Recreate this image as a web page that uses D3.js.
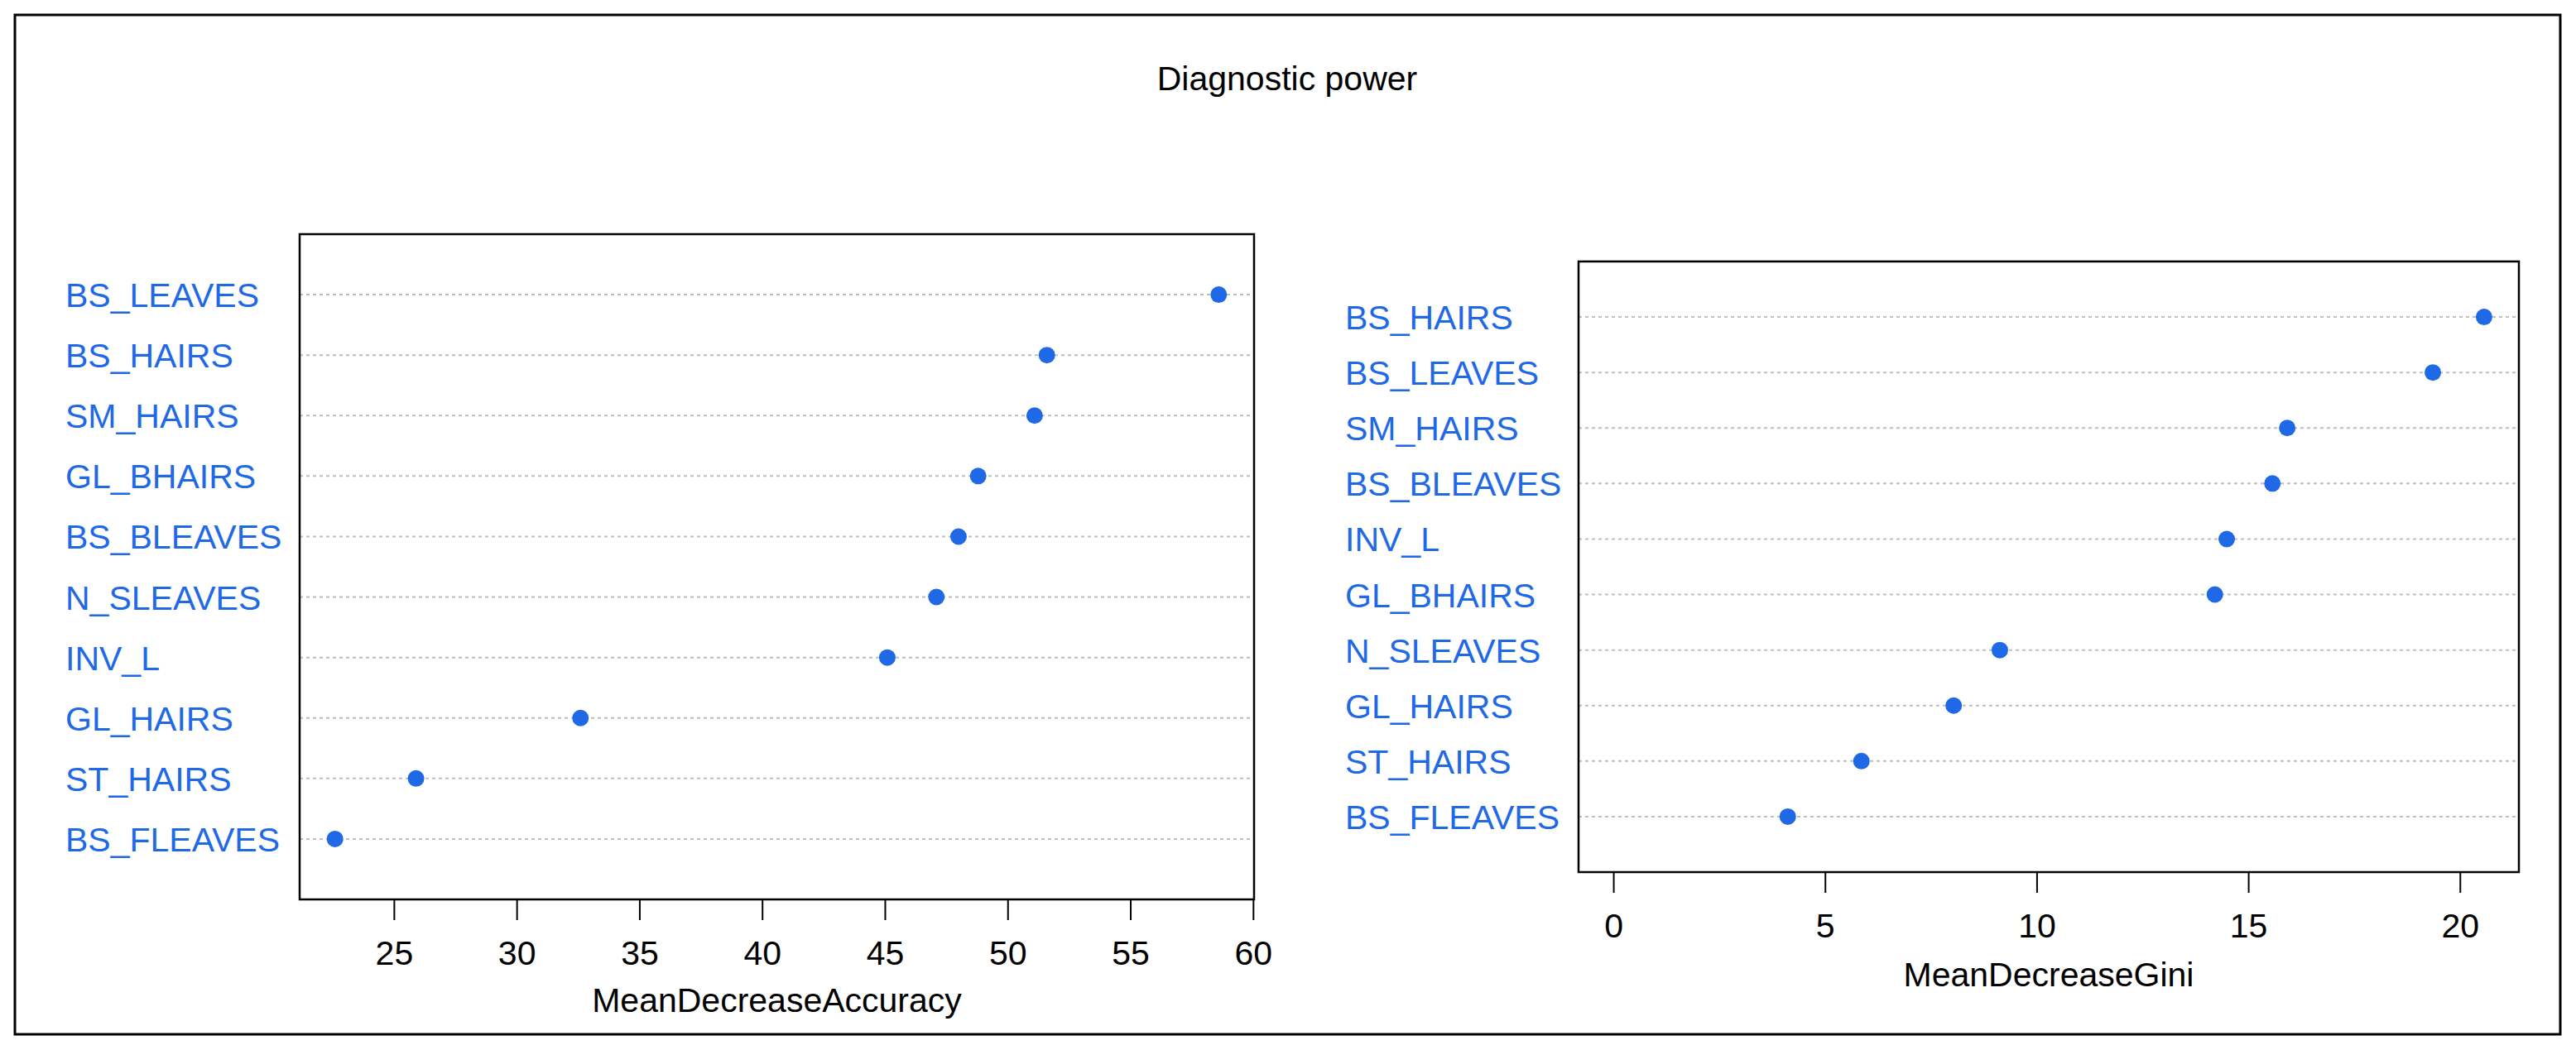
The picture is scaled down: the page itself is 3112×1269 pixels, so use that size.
<!DOCTYPE html>
<html>
<head>
<meta charset="utf-8">
<script src="https://cdn.jsdelivr.net/npm/d3@7"></script>
<style>
    body { margin: 0; background: #fff; }
    text { font-family: "Liberation Sans", Arial, sans-serif; }
</style>
</head>
<body>
<svg width="3112" height="1269"></svg>
<script>
// Variable importance, listed from bottom row to top row
var accLabels = ['BS_FLEAVES', 'ST_HAIRS', 'GL_HAIRS', 'INV_L', 'N_SLEAVES',
    'BS_BLEAVES', 'GL_BHAIRS', 'SM_HAIRS', 'BS_HAIRS', 'BS_LEAVES'];
var accValues = [22.6, 25.9, 32.6, 45.1, 47.1, 48.0, 48.8, 51.1, 51.6, 58.6];

var giniLabels = ['BS_FLEAVES', 'ST_HAIRS', 'GL_HAIRS', 'N_SLEAVES', 'GL_BHAIRS',
    'INV_L', 'BS_BLEAVES', 'SM_HAIRS', 'BS_LEAVES', 'BS_HAIRS'];
var giniValues = [4.12, 5.86, 8.04, 9.13, 14.21, 14.49, 15.57, 15.92, 19.36, 20.57];

var accTicks = [25, 30, 35, 40, 45, 50, 55, 60];
var giniTicks = [0, 5, 10, 15, 20];

var blue = '#1f69e6';
var fontSize = 41;
var svg = d3.select('svg');

// outer frame
svg.append('rect')
    .attr('x', 18).attr('y', 18)
    .attr('width', 3075).attr('height', 1232)
    .attr('fill', 'none')
    .attr('stroke', 'black')
    .attr('stroke-width', 3);

svg.append('text')
    .attr('x', 1555)
    .attr('y', 109)
    .attr('text-anchor', 'middle')
    .attr('font-size', fontSize)
    .text('Diagnostic power');

// one dotchart panel, like R's dotchart()
function drawPanel(opts) {
    var labels = opts.labels, values = opts.values;
    var box = opts.box;

    // x range as R does: [min, max] padded by 4%
    var lo = opts.xmin !== undefined ? opts.xmin : d3.min(values);
    var hi = d3.max(values);
    var pad = (hi - lo) * 0.04;

    var xScale = d3.scaleLinear()
        .domain([lo - pad, hi + pad])
        .range([box.l, box.r]);
    var yScale = d3.scaleLinear()
        .domain([0, labels.length + 1])
        .range([box.b, box.t]);

    var g = svg.append('g');

    var rows = labels.map(function (d, i) {
        return { label: d, value: values[i], pos: i + 1 };
    });

    g.selectAll('.guide')
        .data(rows)
        .enter()
        .append('line')
        .attr('class', 'guide')
        .attr('x1', box.l).attr('x2', box.r)
        .attr('y1', d => yScale(d.pos))
        .attr('y2', d => yScale(d.pos))
        .attr('stroke', '#bebebe')
        .attr('stroke-width', 2)
        .attr('stroke-dasharray', '4,4');

    g.selectAll('.dot')
        .data(rows)
        .enter()
        .append('circle')
        .attr('class', 'dot')
        .attr('cx', d => xScale(d.value))
        .attr('cy', d => yScale(d.pos))
        .attr('r', 10)
        .attr('fill', blue);

    g.selectAll('.row-label')
        .data(rows)
        .enter()
        .append('text')
        .attr('class', 'row-label')
        .attr('x', opts.labelX)
        .attr('y', d => yScale(d.pos) + 15)
        .attr('font-size', fontSize)
        .attr('fill', blue)
        .text(d => d.label);

    g.append('rect')
        .attr('x', box.l).attr('y', box.t)
        .attr('width', box.r - box.l).attr('height', box.b - box.t)
        .attr('fill', 'none')
        .attr('stroke', 'black')
        .attr('stroke-width', 2.5);

    var axis = d3.axisBottom(xScale)
        .tickValues(opts.ticks)
        .tickSize(25)
        .tickSizeOuter(0)
        .tickPadding(25);

    var axisG = g.append('g')
        .attr('transform', 'translate(0,' + box.b + ')')
        .call(axis);
    axisG.select('.domain').remove();
    axisG.selectAll('line').attr('stroke-width', 2);
    axisG.selectAll('text')
        .attr('font-size', fontSize)
        .attr('font-family', '"Liberation Sans", Arial, sans-serif')
        .attr('fill', 'black');

    g.append('text')
        .attr('x', (box.l + box.r) / 2)
        .attr('y', opts.titleY)
        .attr('text-anchor', 'middle')
        .attr('font-size', fontSize)
        .text(opts.title);
}

drawPanel({
    labels: accLabels,
    values: accValues,
    ticks: accTicks,
    box: { l: 362, r: 1515, t: 283, b: 1087 },
    labelX: 79,
    title: 'MeanDecreaseAccuracy',
    titleY: 1223
});

drawPanel({
    labels: giniLabels,
    values: giniValues,
    ticks: giniTicks,
    xmin: 0,
    box: { l: 1907, r: 3043, t: 316, b: 1054 },
    labelX: 1625,
    title: 'MeanDecreaseGini',
    titleY: 1192
});
</script>
</body>
</html>
